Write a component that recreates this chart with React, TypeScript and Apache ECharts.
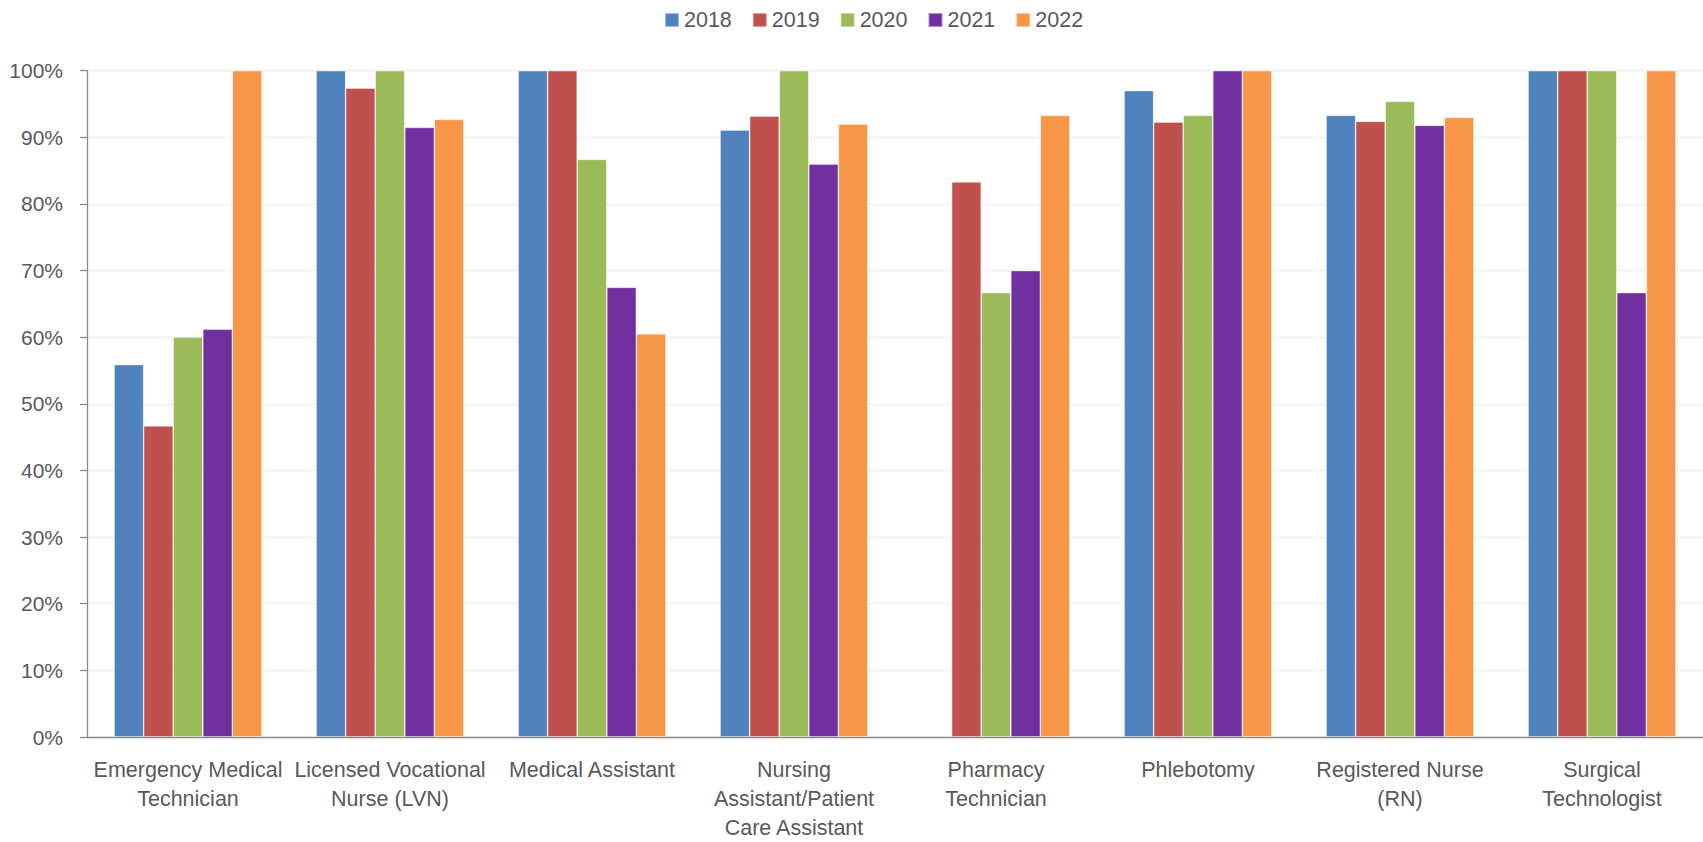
import React, { useEffect, useRef } from "react";
import * as echarts from "echarts";

const categories = [
  "Emergency Medical Technician",
  "Licensed Vocational Nurse (LVN)",
  "Medical Assistant",
  "Nursing Assistant/Patient Care Assistant",
  "Pharmacy Technician",
  "Phlebotomy",
  "Registered Nurse (RN)",
  "Surgical Technologist",
];

const categoryLabels = [
  "Emergency Medical\nTechnician",
  "Licensed Vocational\nNurse (LVN)",
  "Medical Assistant",
  "Nursing\nAssistant/Patient\nCare Assistant",
  "Pharmacy\nTechnician",
  "Phlebotomy",
  "Registered Nurse\n(RN)",
  "Surgical\nTechnologist",
];

const years = ["2018", "2019", "2020", "2021", "2022"];

const v2018 = [55.9, 100, 100, 91.1, null, 97.0, 93.3, 100];
const v2019 = [46.7, 97.4, 100, 93.2, 83.3, 92.3, 92.4, 100];
const v2020 = [60.0, 100, 86.7, 100, 66.7, 93.3, 95.4, 100];
const v2021 = [61.2, 91.5, 67.5, 86.0, 70.0, 100, 91.8, 66.7];
const v2022 = [100, 92.7, 60.5, 92.0, 93.3, 100, 93.0, 100];

const yTicks = [0, 10, 20, 30, 40, 50, 60, 70, 80, 90, 100];

const colors = ["#4F81BD", "#C0504D", "#9BBB59", "#7030A0", "#F79646"];

const FONT = "'Liberation Sans', Arial, sans-serif";

export default function App() {
  const ref = useRef<HTMLDivElement>(null);

  useEffect(() => {
    if (!ref.current) return;
    const chart = echarts.init(ref.current, null, { renderer: "svg" });
    const seriesValues = [v2018, v2019, v2020, v2021, v2022];
    chart.setOption({
      animation: false,
      color: colors,
      textStyle: { fontFamily: FONT },
      legend: {
        data: years,
        left: 664,
        top: 9,
        padding: 0,
        itemWidth: 14,
        itemHeight: 14,
        itemGap: 20,
        icon: "rect",
        textStyle: { fontSize: 21.5, color: "#595959", fontFamily: FONT },
      },
      grid: {
        left: 87,
        top: 70.7,
        width: 1625.6,
        height: 668.3,
        containLabel: false,
      },
      xAxis: {
        type: "category",
        data: categories,
        axisLine: { show: true, lineStyle: { color: "#898989", width: 1.3 } },
        axisTick: { show: false },
        axisLabel: {
          interval: 0,
          margin: 18,
          fontSize: 21.5,
          lineHeight: 29,
          color: "#595959",
          fontFamily: FONT,
          formatter: (_v: string, i: number) => categoryLabels[i],
        },
        splitLine: { show: false },
      },
      yAxis: {
        type: "value",
        min: 0,
        max: 100,
        interval: 10,
        axisLine: { show: true, lineStyle: { color: "#898989", width: 1.3 } },
        axisTick: { show: true, length: 7, lineStyle: { color: "#898989", width: 1.3 } },
        axisLabel: {
          margin: 24,
          fontSize: 21,
          color: "#595959",
          fontFamily: FONT,
          formatter: (v: number) => (yTicks.includes(v) ? v + "%" : ""),
        },
        splitLine: { show: true, lineStyle: { color: "#EEEEEE", width: 1.3 } },
      },
      series: years.map((y, i) => ({
        name: y,
        type: "bar",
        data: seriesValues[i],
        barGap: "0%",
        barCategoryGap: "26.8%",
        itemStyle: {
          color: colors[i],
          borderColor: "rgba(255,255,255,0.45)",
          borderWidth: 0.8,
        },
      })),
    });
    return () => chart.dispose();
  }, []);

  return (
    <div
      ref={ref}
      style={{ position: "absolute", left: 0, top: 0, width: 1703, height: 842, background: "#fff" }}
    />
  );
}
